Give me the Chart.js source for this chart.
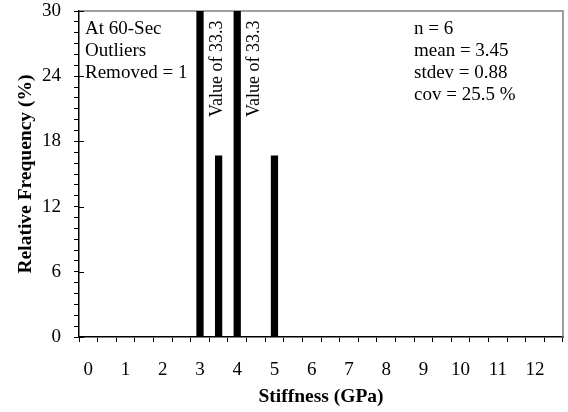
<!DOCTYPE html>
<html>
<head>
<meta charset="utf-8">
<script src="https://cdn.jsdelivr.net/npm/chart.js@4/dist/chart.umd.min.js"></script>
<style>
    html, body { margin: 0; padding: 0; background: #fff; }
</style>
</head>
<body>
<canvas id="chart" width="568" height="412"></canvas>
<script>
// histogram bins (GPa), half-unit wide
const bins = ["0", "0.5", "1", "1.5", "2", "2.5", "3", "3.5", "4", "4.5", "5", "5.5", "6", "6.5",
    "7", "7.5", "8", "8.5", "9", "9.5", "10", "10.5", "11", "11.5", "12", "12.5"];
// relative frequency (%) per bin
const freq = [0, 0, 0, 0, 0, 0, 33.3, 16.7, 33.3, 0, 16.7, 0, 0, 0,
    0, 0, 0, 0, 0, 0, 0, 0, 0, 0, 0, 0];
const yMax = 30;
const yMajor = 6;

const noteLeft = ["At 60-Sec", "Outliers", "Removed = 1"];
const noteStats = ["n = 6", "mean = 3.45", "stdev = 0.88", "cov = 25.5 %"];

const serif = '"Liberation Serif", "Times New Roman", serif';

const extras = {
    id: "extras",
    beforeDatasetsDraw(chart) {
        const { ctx, chartArea: a } = chart;
        ctx.save();
        ctx.strokeStyle = "#808080";
        ctx.lineWidth = 1.5;
        ctx.beginPath();
        ctx.moveTo(a.left, a.top);
        ctx.lineTo(a.right, a.top);
        ctx.lineTo(a.right, a.bottom);
        ctx.stroke();
        ctx.restore();
    },
    afterDraw(chart) {
        const { ctx, chartArea: a } = chart;
        const y = chart.scales.y;
        ctx.save();

        // major ticks also run into the plot
        ctx.strokeStyle = "#000";
        ctx.lineWidth = 1;
        for (let v = 0; v <= yMax; v += yMajor) {
            const py = Math.round(y.getPixelForValue(v)) + 0.5;
            ctx.beginPath();
            ctx.moveTo(a.left, py);
            ctx.lineTo(a.left + 5, py);
            ctx.stroke();
        }

        ctx.fillStyle = "#000";
        ctx.font = "19px " + serif;
        ctx.textBaseline = "alphabetic";
        ctx.textAlign = "left";
        noteLeft.forEach((t, i) => ctx.fillText(t, a.left + 6, a.top + 23 + i * 22));
        noteStats.forEach((t, i) => ctx.fillText(t, a.left + 335, a.top + 23 + i * 22));

        // bars cut off at the top get their value written beside them
        const meta = chart.getDatasetMeta(0);
        meta.data.forEach((bar, i) => {
            const v = freq[i];
            if (v <= yMax) return;
            ctx.save();
            ctx.translate(bar.x + bar.width / 2 + 18, a.top + 106);
            ctx.rotate(-Math.PI / 2);
            ctx.font = "18px " + serif;
            ctx.fillText("Value of " + v, 0, 0);
            ctx.restore();
        });
        ctx.restore();
    }
};

new Chart(document.getElementById("chart"), {
    type: "bar",
    data: {
        labels: bins,
        datasets: [{
            data: freq,
            backgroundColor: "#000",
            borderWidth: 0,
            categoryPercentage: 1,
            barPercentage: 0.39,
        }],
    },
    options: {
        responsive: false,
        animation: false,
        layout: { padding: { top: 11, right: 5, left: 0, bottom: 0 } },
        plugins: {
            legend: { display: false },
            tooltip: { enabled: false },
        },
        scales: {
            x: {
                offset: true,
                grid: { offset: true, drawOnChartArea: false, tickLength: 5, color: "#000" },
                border: { color: "#000", width: 1.5 },
                ticks: {
                    autoSkip: false,
                    maxRotation: 0,
                    padding: 17,
                    color: "#000",
                    font: { family: serif, size: 19 },
                    callback: function (v) {
                        const s = this.getLabelForValue(v);
                        return Number(s) % 1 === 0 ? s : "";
                    },
                },
                title: {
                    display: true,
                    text: "Stiffness (GPa)",
                    color: "#000",
                    font: { family: serif, size: 19.5, weight: "bold" },
                    padding: { top: 0, bottom: 3 },
                },
                afterFit(s) {
                    s.height = 75;
                    s.paddingLeft = 0;
                    s.paddingRight = 0;
                },
            },
            y: {
                min: 0,
                max: yMax,
                grid: { drawOnChartArea: false, tickLength: 5, color: "#000" },
                border: { color: "#000", width: 1.5 },
                ticks: {
                    stepSize: 1,
                    autoSkip: false,
                    padding: 13,
                    color: "#000",
                    font: { family: serif, size: 19 },
                    callback: (v) => (v % yMajor === 0 ? v : ""),
                },
                title: {
                    display: true,
                    text: "Relative Frequency (%)",
                    color: "#000",
                    font: { family: serif, size: 19.5, weight: "bold" },
                    padding: { top: 14, bottom: 0 },
                },
                afterFit(s) {
                    s.width = 79;
                    s.paddingTop = 0;
                    s.paddingBottom = 0;
                },
            },
        },
    },
    plugins: [extras],
});
</script>
</body>
</html>
